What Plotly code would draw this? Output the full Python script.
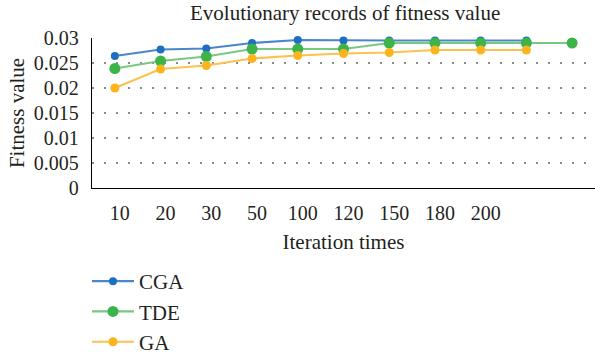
import plotly.graph_objects as go

categories = ["10", "20", "30", "50", "100", "120", "150", "180", "200", "", ""]
cga = [0.0264, 0.0277, 0.0279, 0.0290, 0.0296, 0.0295, 0.0295, 0.0295, 0.0295, 0.0295]
tde = [0.0239, 0.0254, 0.0263, 0.0278, 0.0278, 0.0278, 0.0290, 0.0290, 0.0290, 0.0290, 0.0290]
ga = [0.0200, 0.0238, 0.0245, 0.0259, 0.0265, 0.0269, 0.0271, 0.0276, 0.0276, 0.0276]
tick_labels = ["10", "20", "30", "50", "100", "120", "150", "180", "200"]

FONT = "Liberation Serif"
TXT = "#231f20"

fig = go.Figure()
series = [
    ("CGA", cga, "#1f6fc0", "#4a86c9", 8),
    ("TDE", tde, "#3cb44a", "#78c97f", 11),
    ("GA", ga, "#fbb41e", "#fbc24e", 9),
]
for name, vals, mc, lc, ms in series:
    fig.add_trace(go.Scatter(
        x=list(range(len(vals))), y=vals, name=name, mode="lines+markers",
        line=dict(color=lc, width=2.2),
        marker=dict(color=mc, size=ms),
        cliponaxis=False,
    ))

fig.update_layout(
    width=595, height=362,
    margin=dict(l=92, r=0, t=38, b=163),
    paper_bgcolor="white", plot_bgcolor="white",
    font=dict(family=FONT, size=20, color=TXT),
    title=dict(text="Evolutionary records of fitness value", x=0.58, xanchor="center",
               y=0.965, yanchor="middle", font=dict(family=FONT, size=21, color=TXT)),
    legend=dict(x=-0.01, xanchor="left", y=-0.488, yanchor="top",
                font=dict(family=FONT, size=21, color=TXT),
                tracegroupgap=0, itemwidth=42, bgcolor="rgba(0,0,0,0)"),
    showlegend=True,
)
fig.update_xaxes(
    range=[-0.5, len(categories) - 0.5],
    tickmode="array", tickvals=list(range(len(tick_labels))), ticktext=tick_labels,
    showgrid=False, zeroline=False, showline=True, linecolor="#000", linewidth=1.3,
    ticks="", ticklabelshift=5, ticklabelstandoff=7,
    title=dict(text="Iteration times", standoff=11, font=dict(family=FONT, size=21, color=TXT)),
    tickfont=dict(family=FONT, size=20, color=TXT),
)
fig.update_yaxes(
    range=[0, 0.03], tickmode="array",
    tickvals=[0, 0.005, 0.01, 0.015, 0.02, 0.025, 0.03],
    ticktext=["0", "0.005", "0.01", "0.015", "0.02", "0.025", "0.03"],
    showgrid=True, gridcolor="#8a8a8a", gridwidth=1.5, griddash="1.5px,10.5px",
    zeroline=False, showline=True, linecolor="#000", linewidth=1.3, ticks="",
    ticklabelstandoff=8,
    title=dict(text="Fitness value", standoff=3, font=dict(family=FONT, size=21, color=TXT)),
    tickfont=dict(family=FONT, size=20, color=TXT),
)

fig.write_html("out.html")
